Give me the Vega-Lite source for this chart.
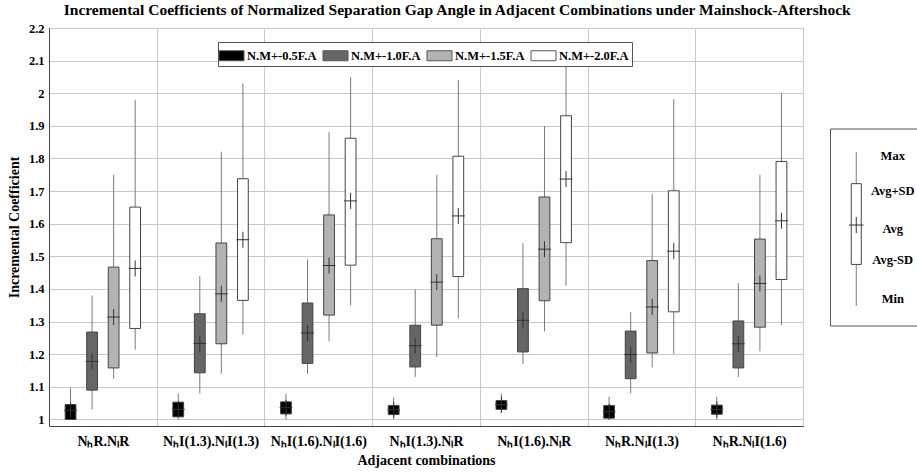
{
  "$schema": "https://vega.github.io/schema/vega-lite/v6.json",
  "padding": {"left": 6, "top": 3, "right": 0, "bottom": 2},
  "title": {
    "text": "Incremental Coefficients of Normalized Separation Gap Angle in Adjacent Combinations under Mainshock-Aftershock",
    "font": "Liberation Serif", "fontSize": 15.5, "fontWeight": "bold", "color": "#000", "anchor": "middle", "offset": 3, "dx": -6
  },
  "datasets": {
    "boxes": [
      {"group": "NₕR.NₗR", "series": "N.M+-0.5F.A", "min": 1.0, "lo": 1.0, "avg": 1.028, "hi": 1.046, "max": 1.097},
      {"group": "NₕR.NₗR", "series": "N.M+-1.0F.A", "min": 1.031, "lo": 1.09, "avg": 1.178, "hi": 1.268, "max": 1.38},
      {"group": "NₕR.NₗR", "series": "N.M+-1.5F.A", "min": 1.125, "lo": 1.158, "avg": 1.314, "hi": 1.467, "max": 1.75},
      {"group": "NₕR.NₗR", "series": "N.M+-2.0F.A", "min": 1.214, "lo": 1.279, "avg": 1.463, "hi": 1.651, "max": 1.98},
      {"group": "NₕI(1.3).NₗI(1.3)", "series": "N.M+-0.5F.A", "min": 1.0, "lo": 1.008, "avg": 1.031, "hi": 1.053, "max": 1.08},
      {"group": "NₕI(1.3).NₗI(1.3)", "series": "N.M+-1.0F.A", "min": 1.08, "lo": 1.143, "avg": 1.233, "hi": 1.324, "max": 1.439},
      {"group": "NₕI(1.3).NₗI(1.3)", "series": "N.M+-1.5F.A", "min": 1.14, "lo": 1.232, "avg": 1.385, "hi": 1.541, "max": 1.821},
      {"group": "NₕI(1.3).NₗI(1.3)", "series": "N.M+-2.0F.A", "min": 1.26, "lo": 1.365, "avg": 1.551, "hi": 1.738, "max": 2.03},
      {"group": "NₕI(1.6).NₗI(1.6)", "series": "N.M+-0.5F.A", "min": 1.0, "lo": 1.017, "avg": 1.036, "hi": 1.054, "max": 1.079},
      {"group": "NₕI(1.6).NₗI(1.6)", "series": "N.M+-1.0F.A", "min": 1.14, "lo": 1.172, "avg": 1.265, "hi": 1.357, "max": 1.49},
      {"group": "NₕI(1.6).NₗI(1.6)", "series": "N.M+-1.5F.A", "min": 1.24, "lo": 1.32, "avg": 1.472, "hi": 1.627, "max": 1.881},
      {"group": "NₕI(1.6).NₗI(1.6)", "series": "N.M+-2.0F.A", "min": 1.35, "lo": 1.473, "avg": 1.67, "hi": 1.862, "max": 2.049},
      {"group": "NₕI(1.3).NₗR", "series": "N.M+-0.5F.A", "min": 1.0, "lo": 1.015, "avg": 1.03, "hi": 1.043, "max": 1.068},
      {"group": "NₕI(1.3).NₗR", "series": "N.M+-1.0F.A", "min": 1.13, "lo": 1.161, "avg": 1.226, "hi": 1.289, "max": 1.399},
      {"group": "NₕI(1.3).NₗR", "series": "N.M+-1.5F.A", "min": 1.191, "lo": 1.289, "avg": 1.421, "hi": 1.554, "max": 1.75},
      {"group": "NₕI(1.3).NₗR", "series": "N.M+-2.0F.A", "min": 1.31, "lo": 1.438, "avg": 1.624, "hi": 1.807, "max": 2.041},
      {"group": "NₕI(1.6).NₗR", "series": "N.M+-0.5F.A", "min": 1.02, "lo": 1.031, "avg": 1.045, "hi": 1.058, "max": 1.079},
      {"group": "NₕI(1.6).NₗR", "series": "N.M+-1.0F.A", "min": 1.17, "lo": 1.207, "avg": 1.304, "hi": 1.401, "max": 1.54},
      {"group": "NₕI(1.6).NₗR", "series": "N.M+-1.5F.A", "min": 1.27, "lo": 1.364, "avg": 1.522, "hi": 1.682, "max": 1.9},
      {"group": "NₕI(1.6).NₗR", "series": "N.M+-2.0F.A", "min": 1.41, "lo": 1.542, "avg": 1.737, "hi": 1.931, "max": 2.097},
      {"group": "NₕR.NₗI(1.3)", "series": "N.M+-0.5F.A", "min": 1.0, "lo": 1.004, "avg": 1.024, "hi": 1.043, "max": 1.07},
      {"group": "NₕR.NₗI(1.3)", "series": "N.M+-1.0F.A", "min": 1.08, "lo": 1.125, "avg": 1.199, "hi": 1.271, "max": 1.33},
      {"group": "NₕR.NₗI(1.3)", "series": "N.M+-1.5F.A", "min": 1.16, "lo": 1.204, "avg": 1.345, "hi": 1.487, "max": 1.691},
      {"group": "NₕR.NₗI(1.3)", "series": "N.M+-2.0F.A", "min": 1.201, "lo": 1.33, "avg": 1.516, "hi": 1.701, "max": 1.982},
      {"group": "NₕR.NₗI(1.6)", "series": "N.M+-0.5F.A", "min": 1.0, "lo": 1.016, "avg": 1.031, "hi": 1.044, "max": 1.07},
      {"group": "NₕR.NₗI(1.6)", "series": "N.M+-1.0F.A", "min": 1.13, "lo": 1.158, "avg": 1.232, "hi": 1.302, "max": 1.418},
      {"group": "NₕR.NₗI(1.6)", "series": "N.M+-1.5F.A", "min": 1.209, "lo": 1.283, "avg": 1.417, "hi": 1.553, "max": 1.75},
      {"group": "NₕR.NₗI(1.6)", "series": "N.M+-2.0F.A", "min": 1.29, "lo": 1.429, "avg": 1.609, "hi": 1.791, "max": 2.0}
    ],
    "keyglyph": [
      {"part": "glyph", "min": 1.0, "lo": 3.1, "avg": 5.1, "hi": 7.2, "max": 8.8}
    ],
    "keylabels": [
      {"part": "text", "stat": "Max", "v": 8.6},
      {"part": "text", "stat": "Avg+SD", "v": 6.85},
      {"part": "text", "stat": "Avg", "v": 4.9},
      {"part": "text", "stat": "Avg-SD", "v": 3.3},
      {"part": "text", "stat": "Min", "v": 1.35}
    ]
  },
  "hconcat": [
    {
      "width": 754,
      "height": 398,
      "data": {"name": "boxes"},
      "encoding": {
        "x": {
          "field": "group", "type": "nominal",
          "sort": ["NₕR.NₗR", "NₕI(1.3).NₗI(1.3)", "NₕI(1.6).NₗI(1.6)", "NₕI(1.3).NₗR", "NₕI(1.6).NₗR", "NₕR.NₗI(1.3)", "NₕR.NₗI(1.6)"],
          "scale": {"paddingInner": 0, "paddingOuter": 0},
          "axis": {
            "title": "Adjacent combinations", "labelAngle": 0, "tickBand": "extent", "grid": true,
            "ticks": false, "labelPadding": 8, "titlePadding": 5, "labelFontSize": 14, "labelOverlap": false
          }
        },
        "xOffset": {
          "field": "series", "type": "nominal",
          "sort": ["N.M+-0.5F.A", "N.M+-1.0F.A", "N.M+-1.5F.A", "N.M+-2.0F.A"],
          "scale": {"paddingInner": 0.5, "paddingOuter": 0.75}
        },
        "y": {
          "field": "min", "type": "quantitative",
          "scale": {"domain": [0.98, 2.2], "nice": false, "zero": false},
          "axis": {
            "title": "Incremental Coefficient", "values": [1, 1.1, 1.2, 1.3, 1.4, 1.5, 1.6, 1.7, 1.8, 1.9, 2, 2.1, 2.2],
            "tickCount": 13, "format": "~g", "grid": true, "ticks": false, "labelPadding": 5, "titlePadding": 7, "labelOverlap": false
          }
        }
      },
      "layer": [
        {
          "mark": {"type": "rule", "color": "#7a7a7a", "strokeWidth": 1},
          "encoding": {
            "y2": {"field": "max"}
          }
        },
        {
          "mark": {"type": "bar", "stroke": "#444", "strokeWidth": 1},
          "encoding": {
            "y": {
              "field": "lo", "type": "quantitative",
              "scale": {"domain": [0.98, 2.2], "nice": false, "zero": false},
              "axis": {
                "title": "Incremental Coefficient", "values": [1, 1.1, 1.2, 1.3, 1.4, 1.5, 1.6, 1.7, 1.8, 1.9, 2, 2.1, 2.2],
                "tickCount": 13, "format": "~g", "grid": true, "ticks": false, "labelPadding": 5, "titlePadding": 7, "labelOverlap": false
              }
            },
            "y2": {"field": "hi"},
            "color": {
              "field": "series", "type": "nominal",
              "scale": {
                "domain": ["N.M+-0.5F.A", "N.M+-1.0F.A", "N.M+-1.5F.A", "N.M+-2.0F.A"],
                "range": ["#000000", "#666666", "#b3b3b3", "#ffffff"]
              },
              "legend": {
                "title": null, "orient": "none", "legendX": 169, "legendY": 14,
                "direction": "horizontal", "columns": 4, "columnPadding": 4,
                "symbolType": "M-1.25,-0.5H1.25V0.5H-1.25Z", "symbolSize": 400,
                "symbolStrokeColor": "#555", "symbolStrokeWidth": 1, "symbolOpacity": 1,
                "labelFont": "Liberation Serif", "labelFontWeight": "bold", "labelFontSize": 12.5, "labelColor": "#000",
                "labelOffset": 5, "padding": 3, "strokeColor": "#555", "fillColor": "#ffffff"
              }
            }
          }
        },
        {
          "mark": {"type": "point", "shape": "M-0.8,0H0.8M0,-1V1", "size": 256, "filled": false, "stroke": "#333", "strokeWidth": 1, "opacity": 1},
          "encoding": {
            "y": {
              "field": "avg", "type": "quantitative",
              "scale": {"domain": [0.98, 2.2], "nice": false, "zero": false},
              "axis": {
                "title": "Incremental Coefficient", "values": [1, 1.1, 1.2, 1.3, 1.4, 1.5, 1.6, 1.7, 1.8, 1.9, 2, 2.1, 2.2],
                "tickCount": 13, "format": "~g", "grid": true, "ticks": false, "labelPadding": 5, "titlePadding": 7, "labelOverlap": false
              }
            }
          }
        }
      ]
    },
    {
      "width": 89,
      "height": 197,
      "layer": [
        {
          "data": {"name": "keyglyph"},
          "mark": {"type": "rule", "color": "#7a7a7a", "strokeWidth": 1},
          "encoding": {
            "x": {"field": "part", "type": "nominal", "scale": {"domain": ["glyph", "text"], "paddingInner": 0, "paddingOuter": 0.22}, "axis": null},
            "y": {"field": "min", "type": "quantitative", "scale": {"domain": [0, 10], "nice": false}, "axis": null},
            "y2": {"field": "max"}
          }
        },
        {
          "data": {"name": "keyglyph"},
          "mark": {"type": "bar", "width": 10, "fill": "#ffffff", "stroke": "#444", "strokeWidth": 1},
          "encoding": {
            "x": {"field": "part", "type": "nominal"},
            "y": {"field": "lo", "type": "quantitative"},
            "y2": {"field": "hi"}
          }
        },
        {
          "data": {"name": "keyglyph"},
          "mark": {"type": "point", "shape": "M-0.9,0H0.9M0,-1V1", "size": 256, "filled": false, "stroke": "#333", "strokeWidth": 1, "opacity": 1},
          "encoding": {
            "x": {"field": "part", "type": "nominal"},
            "y": {"field": "avg", "type": "quantitative"}
          }
        },
        {
          "data": {"name": "keylabels"},
          "mark": {"type": "text", "font": "Liberation Serif", "fontWeight": "bold", "fontSize": 12.5, "color": "#000", "align": "center", "baseline": "middle"},
          "encoding": {
            "x": {"field": "part", "type": "nominal"},
            "y": {"field": "v", "type": "quantitative"},
            "text": {"field": "stat"}
          }
        }
      ]
    }
  ],
  "spacing": 27,
  "bounds": "flush",
  "center": true,
  "config": {
    "font": "Liberation Serif",
    "view": {"stroke": "#555", "strokeWidth": 1},
    "axis": {
      "labelFont": "Liberation Serif", "labelFontWeight": "bold", "labelFontSize": 12.5, "labelColor": "#000",
      "titleFont": "Liberation Serif", "titleFontWeight": "bold", "titleFontSize": 14, "titleColor": "#000",
      "gridColor": "#c8c8c8", "gridWidth": 1, "domainColor": "#444", "domainWidth": 1
    }
  }
}
